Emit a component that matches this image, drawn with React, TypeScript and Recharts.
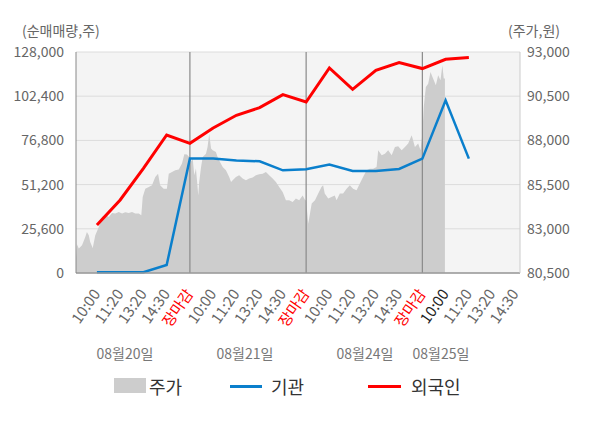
import React from 'react';
import {
  ComposedChart,
  Area,
  Line,
  XAxis,
  YAxis,
  CartesianGrid,
  ReferenceLine,
} from 'recharts';

// x runs in trading "slots": 10 per tick label, 장마감 at 50 / 100 / 150
const tickValues = [10, 20, 30, 40, 50, 60, 70, 80, 90, 100, 110, 120, 130, 140, 150, 160, 170, 180, 190];
const tickLabels = [
  '10:00', '11:20', '13:20', '14:30', '장마감',
  '10:00', '11:20', '13:20', '14:30', '장마감',
  '10:00', '11:20', '13:20', '14:30', '장마감',
  '10:00', '11:20', '13:20', '14:30',
];
const dayLabels = ['08월20일', '08월21일', '08월24일', '08월25일'];

const volumeTicks = [0, 25600, 51200, 76800, 102400, 128000];
const priceTicks = [80500, 83000, 85500, 88000, 90500, 93000];

// 주가 (price, intraday)
const priceTimes = [
  1, 1.4, 2.2, 3.6, 5, 5.7, 6.5, 7.1, 8.2, 9.3, 10.8, 12.2, 13.6, 15.1, 16.5, 17.9, 19.4, 20.8,
  22.2, 23.7, 25.1, 26.5, 28, 29.1, 29.7, 30.8, 32.3, 33.7, 35.1, 36.3, 37.2, 38.7, 40.1, 40.9,
  42.3, 43.7, 45.2, 46.6, 47.6, 48.7, 49.7, 50,
  51.2, 51.9, 52.6, 53.6, 54, 54.8, 55.5, 56.9, 57.6, 58.3, 59.1, 59.8, 61.2, 61.9, 62.6, 64.1,
  65.5, 66.9, 67.7, 68.4, 69.8, 71.2, 72.7, 74.1, 75.5, 77, 78.4, 79.8, 81.3, 82.7, 84.1, 85.6,
  87, 88.4, 89.9, 91.3, 92.7, 94.2, 95.6, 97, 98.5, 99.6, 100,
  100.9, 102.4, 103.8, 105.2, 106.6, 107.3, 108, 109.5, 110.9, 112.3, 113.1, 114.5, 115.9, 117.4,
  118.8, 120.2, 121.7, 123.1, 124.5, 126, 127.4, 128.8, 130.3, 131, 132.5, 133.9, 135.3, 136.8,
  138.2, 139.6, 141.1, 142.5, 143.9, 145.4, 146.8, 148.2, 149.2, 150,
  150.6, 151.5, 152.5, 153.5, 154.6, 155.8, 156.8, 157.8, 158.6, 159.2, 159.7,
];
const prices = [
  81330, 82130, 81880, 82070, 82540, 82820, 82630, 82250, 81910, 82630, 83100, 83670, 83800, 83670, 83890, 83860, 83950, 83860,
  83930, 83890, 83950, 83860, 83860, 83760, 84800, 85270, 85360, 85460, 85930, 86120, 85460, 85270, 85270, 86120,
  86210, 86310, 86350, 86690, 87210, 87200, 87060, 86690,
  86970, 86030, 86410, 84890, 85650, 86500, 87060, 87250, 87630, 88380, 87540, 87440, 87340, 87060, 86870, 86500,
  86310, 85930, 85650, 85750, 85930, 86030, 85840, 85740, 85840, 85900, 86030, 86080, 86120, 86210, 86030, 85840,
  85650, 85360, 85080, 84610, 84610, 84520, 84710, 84610, 84890, 84610, 84610,
  83290, 84430, 84610, 84990, 85360, 85460, 84990, 84710, 84800, 84890, 84610, 84990, 84990, 85270,
  85460, 85270, 85180, 85560, 85930, 86310, 86400, 86400, 86500, 87440, 87160, 87250, 87440, 87160,
  87630, 87670, 87440, 87630, 87820, 88290, 87630, 87820, 87440, 88380,
  89890, 91020, 91210, 91870, 91500, 91120, 91680, 91400, 92250, 91500, 91500,
];

// 순매매량 (cumulative net buying)
const flowTimes = [10, 20, 30, 40, 50, 60, 70, 80, 90, 100, 110, 120, 130, 140, 150, 160, 170];
const institution = [400, 400, 400, 4600, 66260, 66260, 65100, 64700, 59480, 60060, 62780, 59080, 59080, 60240, 66260, 100030, 66260];
const foreigner = [27800, 42280, 60640, 79930, 75120, 84000, 91340, 95800, 103330, 99040, 118740, 106400, 117400, 121860, 118400, 123770, 124760];

const priceData = priceTimes.map((t, i) => ({ t, price: prices[i] }));
const flowData = flowTimes.map((t, i) => ({ t, inst: institution[i], foreign: foreigner[i] }));

const FONT = '"Noto Sans CJK KR", "Noto Sans", sans-serif';

const TimeTick = (props: any) => {
  const { x, y, payload } = props;
  const idx = tickValues.indexOf(payload.value);
  const label = tickLabels[idx];
  const fill = label === '장마감' ? '#ff0000' : idx === 15 ? '#222' : '#666';
  return (
    <text
      x={0}
      y={0}
      textAnchor="end"
      fontSize={15}
      fill={fill}
      transform={`translate(${x + 4},${y + 13}) rotate(-55)`}
    >
      {label}
    </text>
  );
};

const fmt = (v: number) => v.toLocaleString('en-US');

export default function App() {
  return (
    <div style={{ position: 'absolute', left: 0, top: 0, width: 600, height: 428, fontFamily: FONT, background: '#fff' }}>
      <ComposedChart width={600} height={428} data={priceData} margin={{ top: 52, right: 0, bottom: 95, left: 0 }}>
        <CartesianGrid yAxisId="left" vertical={false} stroke="#dcdcdc" fill="#f4f4f4" />
        <XAxis
          dataKey="t"
          type="number"
          domain={[1, 192]}
          allowDataOverflow
          ticks={tickValues}
          interval={0}
          tick={<TimeTick />}
          tickLine={false}
          axisLine={{ stroke: '#999', strokeWidth: 1.5 }}
          height={60}
        />
        <YAxis
          yAxisId="left"
          orientation="left"
          width={76}
          domain={[0, 128000]}
          ticks={volumeTicks}
          tickFormatter={fmt}
          tick={{ fontSize: 14, fill: '#666' }}
          tickLine={false}
          tickMargin={6}
          axisLine={{ stroke: '#888' }}
        />
        <YAxis
          yAxisId="right"
          orientation="right"
          width={80}
          domain={[80500, 93000]}
          ticks={priceTicks}
          tickFormatter={fmt}
          tick={{ fontSize: 14, fill: '#666' }}
          tickLine={false}
          tickMargin={1}
          axisLine={{ stroke: '#ccc' }}
        />
        <Area
          yAxisId="right"
          dataKey="price"
          type="linear"
          stroke="none"
          fill="#cdcdcd"
          fillOpacity={1}
          isAnimationActive={false}
          dot={false}
          activeDot={false}
        />
        <ReferenceLine yAxisId="left" x={50} stroke="#8a8a8a" strokeWidth={1.2} />
        <ReferenceLine yAxisId="left" x={100} stroke="#8a8a8a" strokeWidth={1.2} />
        <ReferenceLine yAxisId="left" x={150} stroke="#8a8a8a" strokeWidth={1.2} />
        <Line
          yAxisId="left"
          data={flowData}
          dataKey="inst"
          type="linear"
          stroke="#0a7fcc"
          strokeWidth={2.5}
          dot={false}
          activeDot={false}
          isAnimationActive={false}
        />
        <Line
          yAxisId="left"
          data={flowData}
          dataKey="foreign"
          type="linear"
          stroke="#ff0000"
          strokeWidth={3}
          dot={false}
          activeDot={false}
          isAnimationActive={false}
        />
      </ComposedChart>

      <div style={{ position: 'absolute', left: 22, top: 23, fontSize: 14, lineHeight: '15px', color: '#666' }}>(순매매량,주)</div>
      <div style={{ position: 'absolute', left: 508, top: 23, fontSize: 14, lineHeight: '15px', color: '#666' }}>(주가,원)</div>

      {dayLabels.map((d, i) => (
        <div
          key={d}
          style={{
            position: 'absolute',
            left: [125, 245, 365, 441][i] - 40,
            width: 80,
            top: 343,
            textAlign: 'center',
            fontSize: 14,
            color: '#777',
          }}
        >
          {d}
        </div>
      ))}

      <div style={{ position: 'absolute', left: 0, top: 374, width: 600, height: 26, fontSize: 18, color: '#333' }}>
        <div style={{ position: 'absolute', left: 114, top: 4, width: 32, height: 15, background: '#cdcdcd' }} />
        <div style={{ position: 'absolute', left: 149, top: -1 }}>주가</div>
        <div style={{ position: 'absolute', left: 230, top: 11, width: 32, height: 3, background: '#0a7fcc' }} />
        <div style={{ position: 'absolute', left: 271, top: -1 }}>기관</div>
        <div style={{ position: 'absolute', left: 368, top: 11, width: 33, height: 3, background: '#ff0000' }} />
        <div style={{ position: 'absolute', left: 411, top: -1 }}>외국인</div>
      </div>
    </div>
  );
}
